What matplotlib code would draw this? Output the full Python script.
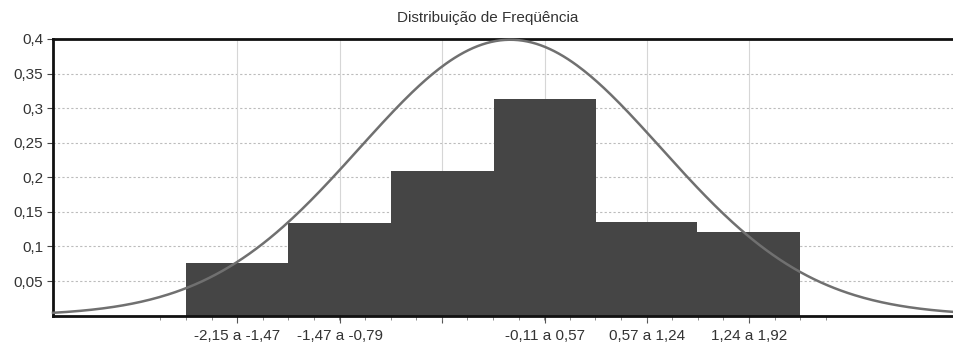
import numpy as np
import matplotlib
matplotlib.use("Agg")
from matplotlib import pyplot as plt
from matplotlib.ticker import FixedLocator

plt.rcParams['font.family'] = ['Liberation Sans', 'DejaVu Sans']

# histogram of relative frequencies
bin_edges = [-2.15, -1.47, -0.79, -0.11, 0.57, 1.24, 1.92]
freqs = [0.076, 0.134, 0.209, 0.313, 0.135, 0.121]
# third class label is not drawn in the original
tick_labels = ['-2,15 a -1,47', '-1,47 a -0,79', '',
               '-0,11 a 0,57', '0,57 a 1,24', '1,24 a 1,92']
y_ticks = [0.05, 0.1, 0.15, 0.2, 0.25, 0.3, 0.35, 0.4]
y_labels = ['0,05', '0,1', '0,15', '0,2', '0,25', '0,3', '0,35', '0,4']

# normal curve laid over the bars
mu = 0.0
sigma = 1.0

edges = np.array(bin_edges)
widths = np.diff(edges)
centers = (edges[:-1] + edges[1:]) / 2

fig = plt.figure(figsize=(9.54, 3.48), dpi=100)
ax = fig.add_axes([53 / 954, 32.4 / 348, 1 - 53 / 954, 276.6 / 348])

ax.set_xlim(-3.03, 2.94)
ax.set_ylim(0, 0.4)

# grid behind everything
for y in y_ticks[:-1]:
    ax.axhline(y, color='#bcbcbc', lw=0.8, ls=(0, (2, 2)), zorder=0)
for c in centers:
    ax.axvline(c, color='#d6d6d6', lw=0.8, zorder=0)

ax.bar(edges[:-1], freqs, width=widths, align='edge',
       color='#454545', edgecolor='none', zorder=2)

xs = np.linspace(-3.03, 2.94, 400)
pdf = np.exp(-0.5 * ((xs - mu) / sigma) ** 2) / (sigma * np.sqrt(2 * np.pi))
ax.plot(xs, pdf, color='#707070', lw=1.8, zorder=3, clip_on=False)

for side in ['left', 'bottom', 'top']:
    ax.spines[side].set_linewidth(2)
    ax.spines[side].set_color('#111111')
ax.spines['right'].set_visible(False)

ax.set_yticks(y_ticks)
ax.set_yticklabels(y_labels)
ax.set_xticks(centers)
ax.set_xticklabels(tick_labels)
q = widths.mean() / 4
ax.xaxis.set_minor_locator(FixedLocator(np.arange(centers[0] - 3 * q, centers[-1] + 3.5 * q, q)))

ax.tick_params(axis='y', length=4, width=0.8, color='#444444', pad=3,
               labelsize=11, labelcolor='#333333')
ax.tick_params(axis='x', which='major', length=5, width=0.8, color='#555555',
               pad=5, labelsize=11, labelcolor='#333333')
ax.tick_params(axis='x', which='minor', length=3, width=0.6, color='#777777')

fig.text(488 / 954, 1 - 18 / 348, 'Distribuição de Freqüência',
         ha='center', va='center', fontsize=11, color='#333333')

fig.savefig('out.png', dpi=100)
